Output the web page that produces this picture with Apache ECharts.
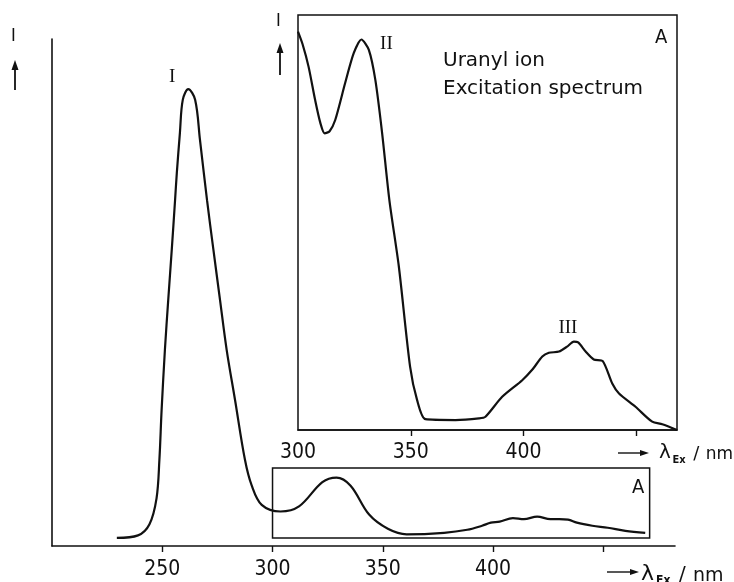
<!DOCTYPE html>
<html>
<head>
<meta charset="utf-8">
<script src="https://cdn.jsdelivr.net/npm/echarts@6/dist/echarts.min.js"></script>
<style>
  html, body { margin: 0; padding: 0; background: #fff; }
  #chart { width: 734px; height: 582px; }
</style>
</head>
<body>
<div id="chart"></div>
<script>
// full excitation spectrum (relative intensity, axis top = 100)
const mainNm = [229.4, 239, 244.2, 247.4, 248.7, 249.7, 251.2, 252.7, 254.3, 255.8, 256.6, 258, 259.3, 261.8, 264.9, 267.1, 270.3, 273.2, 276.2, 279.2, 283, 287.5, 290.5, 295.1, 303.6, 312, 322.6, 329, 335.4, 343.8, 352.3, 360.8, 377.8, 388.3, 395, 399, 403, 409, 414, 420, 426, 430, 434, 438, 445, 452, 460, 469]
const mainI = [1.6, 2.1, 4.3, 9.4, 17, 26.8, 38.7, 48.5, 58.4, 68.2, 73.6, 81.5, 88, 90.1, 88, 80.1, 68.2, 58.4, 48.5, 38.7, 28.8, 17, 12, 8.1, 6.8, 7.8, 12.6, 13.5, 11.9, 6.2, 3.4, 2.3, 2.6, 3.2, 4.0, 4.6, 4.8, 5.5, 5.3, 5.8, 5.3, 5.3, 5.2, 4.6, 4.0, 3.6, 3.0, 2.6]

// region A magnified (inset)
const insetNm = [300, 302, 304.7, 307.6, 309.9, 311.8, 314, 316.5, 320.9, 324.7, 328.1, 331.4, 334.3, 337.3, 340.5, 344.7, 349.7, 352.8, 356.5, 369.8, 380.2, 383.1, 390.5, 399.4, 403.8, 408.3, 411.2, 415.7, 419.3, 422.3, 424.2, 427.5, 431.1, 435.1, 439.3, 442.3, 449.6, 457, 461.5, 468]
const insetI = [96, 93, 87.5, 79.5, 74, 71.5, 72, 74.7, 83.6, 90.8, 94.1, 91.6, 84.3, 71.5, 55.4, 39.4, 15.2, 7.2, 2.6, 2.4, 2.8, 3.2, 8, 12, 14.5, 17.7, 18.6, 18.9, 20.1, 21.3, 21.1, 18.9, 17, 16.6, 11.2, 8.8, 5.6, 2, 1.4, 0]

const mainTicks = [250, 300, 350, 400, 450]
const mainLabels = [250, 300, 350, 400]
const insetTicks = [350, 400, 450]
const insetLabels = [300, 350, 400]
const boxA = { nm: [300, 471], i: [1.6, 15.4] }

const ink = '#111'
const narrow = "'Liberation Sans Narrow', 'DejaVu Sans Condensed', sans-serif"
const serif = "'Liberation Serif', 'DejaVu Serif', serif"
const sans = "'DejaVu Sans', sans-serif"

const zip = (xs, ys) => xs.map((x, i) => [x, ys[i]])
const peakAt = (xs, ys, lo, hi) => {
  let best = -1
  xs.forEach((x, i) => { if (x >= lo && x <= hi && (best < 0 || ys[i] > ys[best])) best = i })
  return [xs[best], ys[best]]
}

function peakMark(coord, text, offset) {
  return {
    coord, symbol: 'circle', symbolSize: 1,
    itemStyle: { color: 'rgba(0,0,0,0)' },
    label: { show: true, formatter: text, position: 'inside', offset, color: ink, fontFamily: serif, fontSize: 19 }
  }
}

// decorative arrows for axis names
function hArrow(x, y, len) {
  return [
    { type: 'line', shape: { x1: x, y1: y, x2: x + len - 5, y2: y }, style: { stroke: ink, lineWidth: 1.4 } },
    { type: 'polygon', shape: { points: [[x + len, y], [x + len - 9, y - 3], [x + len - 9, y + 3]] }, style: { fill: ink } }
  ]
}
function vArrow(x, yBot, yTop) {
  return [
    { type: 'line', shape: { x1: x, y1: yBot, x2: x, y2: yTop + 5 }, style: { stroke: ink, lineWidth: 1.8 } },
    { type: 'polygon', shape: { points: [[x, yTop], [x - 3.5, yTop + 10], [x + 3.5, yTop + 10]] }, style: { fill: ink } }
  ]
}
function txt(x, y, text, font) {
  return { type: 'text', x, y, style: { text, font, fill: ink, textAlign: 'left', textVerticalAlign: 'middle' } }
}
// "λEx / nm"
function lambdaName(x, y, s) {
  return [
    txt(x, y, 'λ', `${Math.round(22 * s)}px ${sans}`),
    txt(x + 15 * s, y + 7, 'Ex', `bold ${Math.round(12 * s)}px ${narrow}`),
    txt(x + 38 * s, y + 1, '/', `${Math.round(20 * s)}px ${sans}`),
    txt(x + 52 * s, y + 2, 'nm', `${Math.round(19 * s)}px ${sans}`)
  ]
}

const chart = echarts.init(document.getElementById('chart'))

chart.setOption({
  animation: false,
  backgroundColor: '#fff',
  grid: [
    { left: 52, right: 59, top: 39, bottom: 36 },
    { left: 298, right: 57, top: 15, bottom: 152, show: true, borderColor: ink, borderWidth: 1.5 }
  ],
  xAxis: [
    {
      type: 'value', gridIndex: 0, min: 200, max: 482.5,
      axisLine: { lineStyle: { color: ink, width: 1.6 } },
      axisTick: { customValues: mainTicks, length: 6, lineStyle: { color: ink, width: 1.4 } },
      axisLabel: { customValues: mainLabels, color: ink, fontFamily: narrow, fontSize: 21, margin: 13 },
      splitLine: { show: false }
    },
    {
      type: 'value', gridIndex: 1, min: 300, max: 468,
      axisLine: { lineStyle: { color: ink, width: 1.5 } },
      axisTick: { customValues: insetTicks, length: 6, lineStyle: { color: ink, width: 1.4 } },
      axisLabel: { customValues: insetLabels, color: ink, fontFamily: narrow, fontSize: 21, margin: 12 },
      splitLine: { show: false }
    }
  ],
  yAxis: [
    {
      type: 'value', gridIndex: 0, min: 0, max: 100,
      axisLine: { show: true, lineStyle: { color: ink, width: 1.6 } },
      axisTick: { show: false }, axisLabel: { show: false }, splitLine: { show: false }
    },
    {
      type: 'value', gridIndex: 1, min: 0, max: 100, show: false
    }
  ],
  series: [
    {
      type: 'line', xAxisIndex: 0, yAxisIndex: 0,
      data: zip(mainNm, mainI),
      showSymbol: false, smooth: 0.35,
      lineStyle: { color: ink, width: 2.2 },
      markPoint: { data: [peakMark(peakAt(mainNm, mainI, 240, 280), 'I', [-16, -12])] },
      markArea: {
        silent: true,
        itemStyle: { color: 'rgba(0,0,0,0)', borderColor: ink, borderWidth: 1.5 },
        data: [[{ coord: [boxA.nm[0], boxA.i[0]] }, { coord: [boxA.nm[1], boxA.i[1]] }]]
      }
    },
    {
      type: 'line', xAxisIndex: 1, yAxisIndex: 1,
      data: zip(insetNm, insetI),
      showSymbol: false, smooth: 0.25,
      lineStyle: { color: ink, width: 2.2 },
      markPoint: {
        data: [
          peakMark(peakAt(insetNm, insetI, 320, 340), 'II', [25, 5]),
          peakMark(peakAt(insetNm, insetI, 410, 440), 'III', [-6, -14])
        ]
      }
    }
  ],
  graphic: [
    // y-axis names (main plot and inset)
    txt(11, 36, 'I', `18px ${narrow}`),
    ...vArrow(15, 90, 60),
    txt(276, 21, 'I', `18px ${narrow}`),
    ...vArrow(280, 75, 43),
    // x-axis names
    ...hArrow(607, 572, 32),
    ...lambdaName(641, 574, 1),
    ...hArrow(618, 453, 31),
    ...lambdaName(659, 453, 0.9),
    // captions
    txt(655, 38, 'A', `20px ${narrow}`),
    txt(632, 488, 'A', `20px ${narrow}`),
    txt(443, 61, 'Uranyl ion', `20px ${sans}`),
    txt(443, 89, 'Excitation spectrum', `20px ${sans}`)
  ]
})
</script>
</body>
</html>
